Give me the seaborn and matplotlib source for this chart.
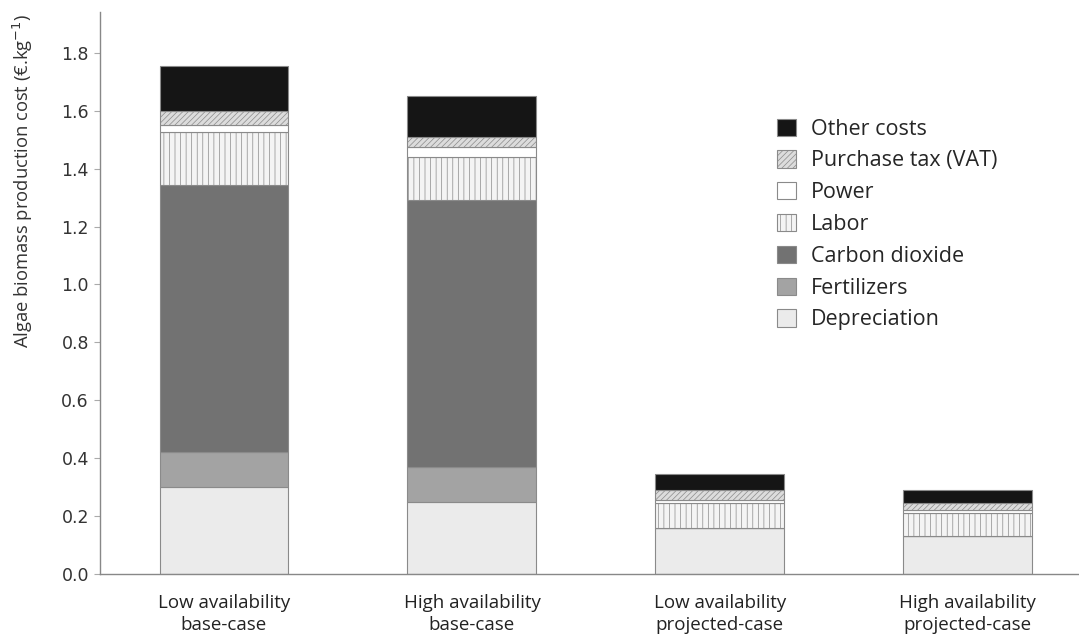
import numpy as np
import pandas as pd
import seaborn as sns
import matplotlib.pyplot as plt
from matplotlib.patches import Patch

# data
scenarios = ["Low availability\nbase-case", "High availability\nbase-case",
             "Low availability\nprojected-case", "High availability\nprojected-case"]
components = ["Depreciation", "Fertilizers", "Carbon dioxide", "Labor",
              "Power", "Purchase tax (VAT)", "Other costs"]
depreciation = [0.30, 0.25, 0.16, 0.13]
fertilizers = [0.12, 0.12, 0.0, 0.0]
carbon_dioxide = [0.925, 0.92, 0.0, 0.0]
labor = [0.18, 0.15, 0.085, 0.08]
power = [0.025, 0.035, 0.01, 0.01]
vat = [0.05, 0.035, 0.035, 0.025]
other_costs = [0.155, 0.14, 0.055, 0.045]

values = [depreciation, fertilizers, carbon_dioxide, labor, power, vat, other_costs]
colors = ["#ebebeb", "#a3a3a3", "#727272", "#f4f4f4", "#ffffff", "#dcdcdc", "#151515"]
hatches = [None, None, None, "|||", None, "//////", None]

df = pd.DataFrame({"scenario": scenarios})
for name, vals in zip(components, values):
    df[name] = vals

sns.set_style("white")
plt.rcParams["font.family"] = ["Open Sans", "DejaVu Sans"]
plt.rcParams["hatch.linewidth"] = 0.5

fig = plt.figure(figsize=(10.79, 6.4), dpi=100)
ax = fig.add_axes([0.0927, 0.103, 0.91, 0.878])

bottom = np.zeros(len(scenarios))
for name, col, h in zip(components, colors, hatches):
    sns.barplot(data=df, x="scenario", y=name, bottom=bottom, color=col,
                hatch=h, edgecolor="#8a8a8a", linewidth=0.8, width=0.52,
                saturation=1, ax=ax)
    bottom = bottom + df[name].values

ax.set_xlim(-0.5, 3.46)
ax.set_ylim(0, 1.94)
ax.set_yticks(np.arange(0, 1.81, 0.2))
ax.set_yticklabels([f"{v:.1f}" for v in np.arange(0, 1.81, 0.2)],
                   family="DejaVu Sans", fontsize=12.5, color="#333333")
ax.set_xticks(range(len(scenarios)))
ax.set_xticklabels(scenarios, fontsize=13.5, color="#222222", linespacing=1.3)
ax.set_xlabel("")
ax.set_ylabel("Algae biomass production cost (€.kg$^{-1}$)", fontsize=13.2, color="#333333")
ax.yaxis.set_label_coords(-0.066, 0.70)

for s in ["top", "right"]:
    ax.spines[s].set_visible(False)
for s in ["left", "bottom"]:
    ax.spines[s].set_color("#888888")
    ax.spines[s].set_linewidth(1.0)
ax.tick_params(axis="y", length=4, color="#aaaaaa", direction="out", left=True, pad=4)
ax.tick_params(axis="x", length=0, pad=14)

handles = [Patch(facecolor=c, edgecolor="#8a8a8a", hatch=h, linewidth=0.8)
           for c, h in zip(colors, hatches)]
ax.legend(handles[::-1], components[::-1], loc="upper left",
          bbox_to_anchor=(0.67, 0.845), frameon=False, fontsize=15.5,
          handlelength=0.85, handleheight=0.85, labelspacing=0.5, handletextpad=0.7)

fig.savefig("out.png", dpi=100)
